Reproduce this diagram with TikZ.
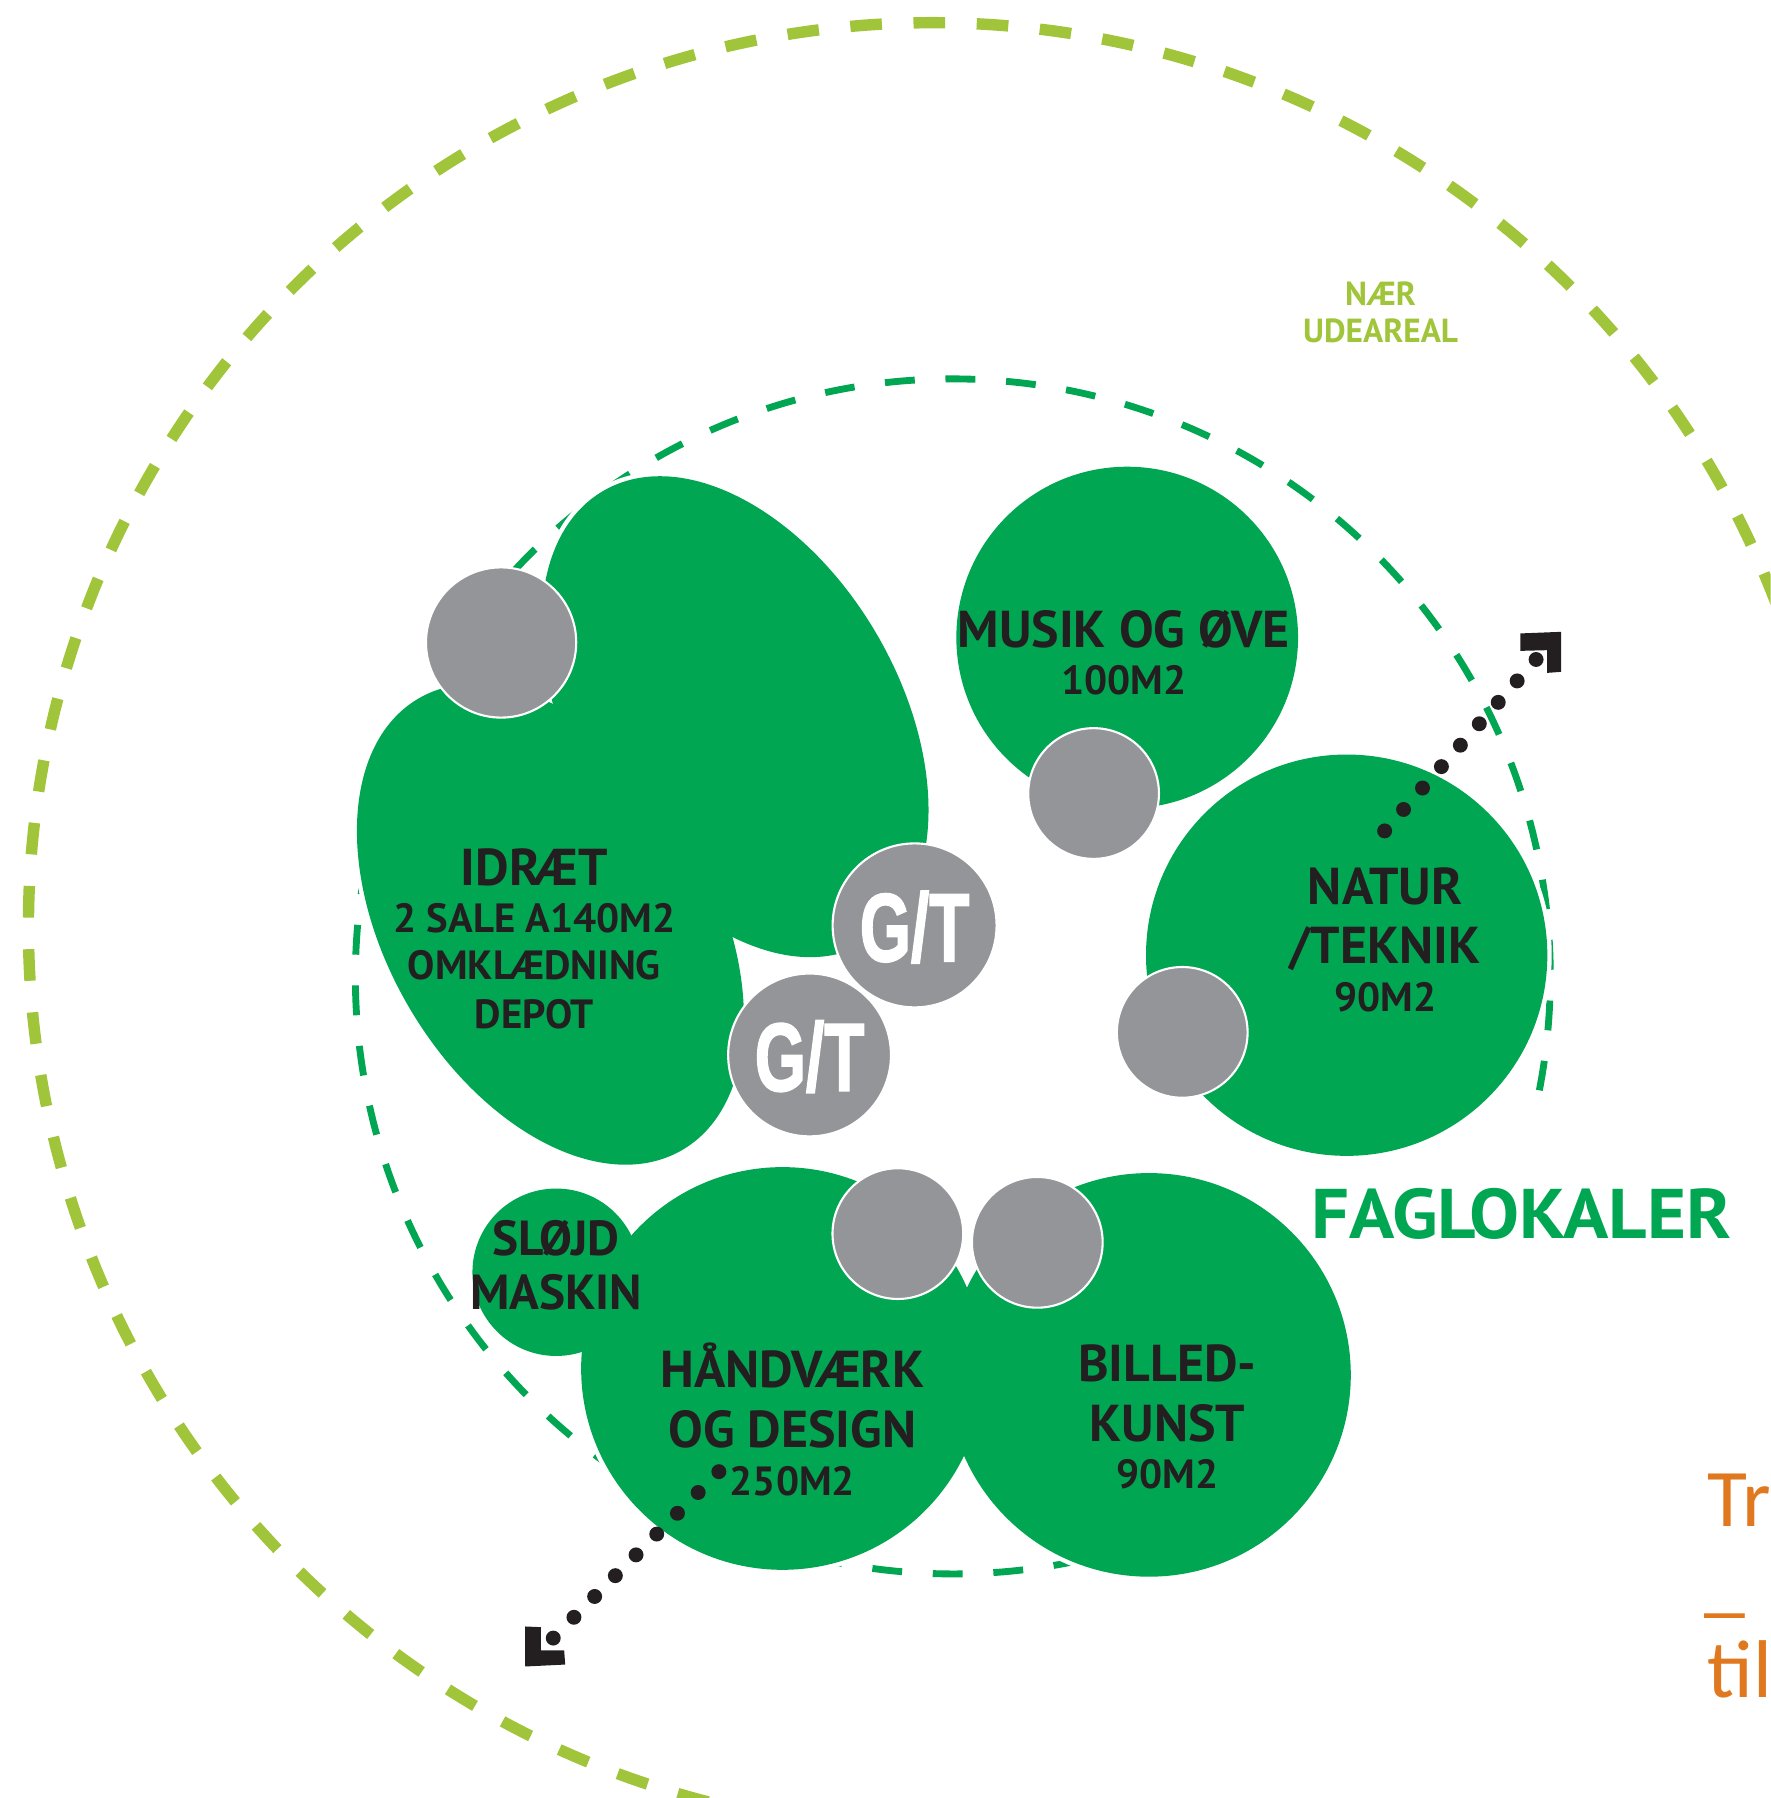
\documentclass[tikz,border=0pt]{standalone}
\usepackage{fontspec}
\setmainfont{PT Sans}
\newfontfamily\gtfont[FakeBold=2]{Liberation Sans}
\newfontfamily\orfont{Carlito}
\definecolor{fgreen}{RGB}{0,166,81}
\definecolor{lgreen}{RGB}{160,197,58}
\definecolor{ggray}{RGB}{147,149,152}
\definecolor{ink}{RGB}{35,31,32}
\definecolor{orng}{RGB}{224,120,32}
\begin{document}
\begin{tikzpicture}[x=0.022928cm,y=-0.022928cm,
  lbl/.style={text=ink, font=\bfseries\fontsize{29.5}{29.5}\selectfont, anchor=base, inner sep=0pt},
  sublbl/.style={lbl, font=\bfseries\fontsize{23.2}{23.2}\selectfont},
  smlbl/.style={lbl, font=\bfseries\fontsize{28}{28}\selectfont},
  gtlbl/.style={text=white, font=\gtfont\bfseries\fontsize{55}{55}\selectfont, inner sep=0pt},
  orlbl/.style={text=orng, font=\orfont\fontsize{46.6}{46.6}\selectfont, anchor=base west, inner sep=0pt},
  outerring/.style={lgreen, line width=6.5pt, dash pattern=on 18pt off 18pt},
  innerring/.style={fgreen, line width=3.9pt, dash pattern=on 17pt off 17.5pt},
  halo/.style={draw=white, line width=5pt},
  room/.style={fill=fgreen},
  wc/.style={fill=ggray, draw=white, line width=1.2pt},
  dotsA/.style={ink, line width=8.5pt, line cap=round, dash pattern=on 0pt off 16.27pt},
  dotsB/.style={ink, line width=8.5pt, line cap=round, dash pattern=on 0pt off 16.70pt},
]
\useasboundingbox (0,0) rectangle (1544,1568);
\clip (0,0) rectangle (1544,1568);

% rings (open arcs)
\draw[outerring] ({813+788*cos(-21)},{808+788*sin(-21)}) arc[start angle=-21, end angle=-262, radius=788];
\draw[innerring] ({831+521*cos(60)},{851.5+521*sin(60)}) arc[start angle=60, end angle=372.5, radius=521];

% white halos of the rooms
\foreach \cx/\cy/\r in {983/556/149, 1174.4/833/175, 485/1109.5/73, 682.4/1193.4/175.6, 1002/1199/176}
  {\path[halo] (\cx,\cy) circle[radius=\r];}
\begin{scope}[shift={(641,625)},rotate=-59.7]
  \path[halo] (0,0) ellipse[x radius=228, y radius=143];
\end{scope}
\begin{scope}[shift={(480,806)},rotate=-59.7]
  \path[halo] (0,0) ellipse[x radius=228, y radius=143];
\end{scope}

% rooms
\foreach \cx/\cy/\r in {983/556/149, 1174.4/833/175, 485/1109.5/73, 682.4/1193.4/175.6, 1002/1199/176}
  {\path[room] (\cx,\cy) circle[radius=\r];}
\begin{scope}[shift={(641,625)},rotate=-59.7]
  \path[room] (0,0) ellipse[x radius=228, y radius=143];
\end{scope}
\begin{scope}[shift={(480,806)},rotate=-59.7]
  \path[room] (0,0) ellipse[x radius=228, y radius=143];
\end{scope}

% grey circles
\foreach \cx/\cy/\r in {437/560.3/65.5, 953.7/692/57, 1031/900.3/57, 783/1075.8/57, 904.6/1083.4/57, 797.6/807/71.5, 706/920/71}
  {\path[wc] (\cx,\cy) circle[radius=\r];}

% labels
\node[lbl] (idraet) at (466,772) {IDRÆT};
\node[sublbl] (sale) at (466,813) {2 SALE A140M2};
\node[sublbl] (omkl) at (466,854) {OMKLÆDNING};
\node[sublbl] (depot) at (466,897) {DEPOT};

\node[lbl] (musik) at (980,565) {MUSIK OG ØVE};
\node[sublbl] (musikm) at (980,606) {100M2};

\node[lbl] (natur) at (1208,789) {NATUR};
\node[lbl] (teknik) at (1208,840) {/TEKNIK};
\node[sublbl] (naturm) at (1208,882) {90M2};

\node[smlbl] (slojd) at (485,1095) {SLØJD};
\node[smlbl] (maskin) at (485,1142) {MASKIN};

\node[lbl] (haand) at (691,1210) {HÅNDVÆRK};
\node[lbl] (ogdes) at (691,1262) {OG DESIGN};
\node[sublbl] (haandm) at (691,1304) {250M2};

\node[lbl] (billed) at (1018,1205) {BILLED-};
\node[lbl] (kunst) at (1018,1257) {KUNST};
\node[sublbl] (billedm) at (1018,1298) {90M2};

\node[text=fgreen, font=\bfseries\fontsize{40}{40}\selectfont, anchor=base west, inner sep=0pt] (fag) at (1143,1080) {\scalebox{1.065}[1]{FAGLOKALER}};

\node[text=lgreen, font=\bfseries\fontsize{19}{19}\selectfont, anchor=base, inner sep=0pt] (naer) at (1204,266.6) {NÆR};
\node[text=lgreen, font=\bfseries\fontsize{19}{19}\selectfont, anchor=base, inner sep=0pt] (ude) at (1204,299) {UDEAREAL};

\node[gtlbl] (gt1) at (797.6,808.5) {\scalebox{0.68}[1]{G/T}};
\node[gtlbl] (gt2) at (706,921.5) {\scalebox{0.68}[1]{G/T}};

% orange cut-off text
\node[orlbl] (tr) at (1489,1331) {Tr};
\node[orlbl] (us) at (1486,1402) {\textunderscore};
\node[orlbl] (til) at (1489,1480) {til};

% dotted arrows
\coordinate (neA) at (1207.5,724.6);
\coordinate (neB) at (1339.6,575.1);
\draw[dotsA] (neA) -- (neB);
\fill[ink] (1361.4,551) -- (1325.9,552.4) -- (1325.9,567.6) -- (1349.2,567) -- (1349.2,586.8) -- (1361.4,585.9) -- cycle;

\coordinate (swA) at (626.9,1283.4);
\coordinate (swB) at (482.4,1428.6);
\draw[dotsB] (swA) -- (swB);
\fill[ink] (458,1418.4) -- (471.7,1419) -- (471.7,1439.3) -- (492,1439.3) -- (492.9,1451.6) -- (458,1453.3) -- cycle;
\end{tikzpicture}
\end{document}
